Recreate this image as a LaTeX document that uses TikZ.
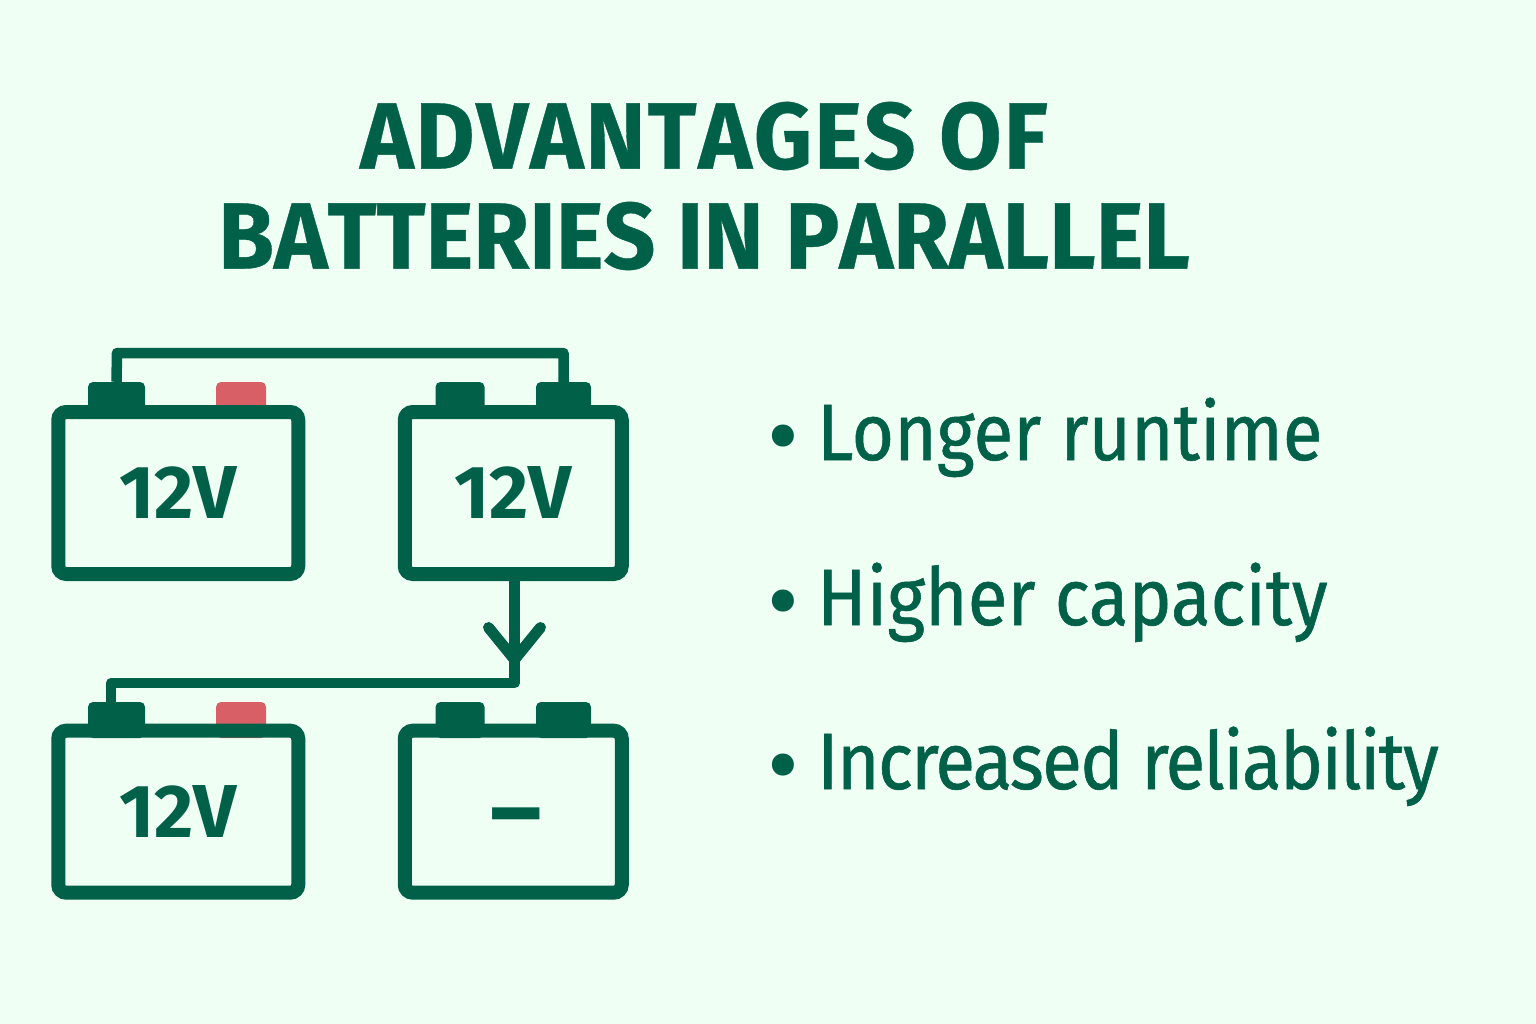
\documentclass[tikz,border=0pt]{standalone}
\usepackage{fontspec}
\setmainfont{Fira Sans}
\newfontfamily\headfont[FakeStretch=0.965,Kerning=Off,FakeBold=0.4]{Fira Sans Bold}
\newfontfamily\headwide[FakeStretch=0.965,Kerning=Off,FakeBold=0.4,LetterSpace=2]{Fira Sans Bold}
\newfontfamily\labelfont[FakeStretch=1.01,Kerning=Off]{Fira Sans Bold}
\newfontfamily\listfont[FakeStretch=0.91,FakeBold=0.7]{Fira Sans}
\newfontfamily\listtight[FakeStretch=0.91,FakeBold=0.7,LetterSpace=-2.1]{Fira Sans}
\usetikzlibrary{arrows.meta}
\definecolor{bgmint}{HTML}{F0FFF3}
\definecolor{darkgreen}{HTML}{006048}
\definecolor{termred}{HTML}{D95F66}
\begin{document}
\begin{tikzpicture}[x=1pt, y=-1pt, node distance=335pt,
            battery/.style={rectangle, draw=darkgreen, line width=14pt, rounded corners=8pt, minimum height=162pt, text=darkgreen, font=\fontsize{75}{75}\labelfont},
            widebatt/.style={battery, minimum width=240pt},
            narrowbatt/.style={battery, minimum width=217pt},
            terminal/.style={rectangle, rounded corners=5pt, minimum height=36pt, inner sep=0pt},
            negterm/.style={terminal, fill=darkgreen},
            posterm/.style={terminal, fill=termred},
            wire/.style={draw=darkgreen, line width=10.5pt, line join=round},
            heading/.style={text=darkgreen, align=center, font=\fontsize{94}{100}\headfont},
            minussign/.style={text=darkgreen, inner sep=0pt, text height=55pt, text depth=0pt, font=\fontsize{98}{98}\labelfont},
            bulletdot/.style={text=darkgreen, inner sep=0pt, font=\fontsize{98}{98}\selectfont},
            listitem/.style={text=darkgreen, anchor=base west, inner sep=0pt, font=\fontsize{80}{80}\listfont}]

        \useasboundingbox[fill=bgmint] (0,0) rectangle (1536,1024);

        \node[heading] (title) at (704,186) {{\headwide ADVANTAGES OF}\\BATTERIES IN PARALLEL};

        % terminals go first, the battery tops cover their lower ends
        \node[negterm, minimum width=57pt] (termA) at (116.5,400) {};
        \node[posterm, minimum width=50pt] (termB) at (241,400) {};
        \node[negterm, minimum width=49pt] (termC) at (460,400) {};
        \node[negterm, minimum width=55pt] (termD) at (563.5,400) {};
        \node[negterm, minimum width=57pt] (termE) at (116.5,720) {};
        \node[posterm, minimum width=50pt] (termF) at (241,720) {};
        \node[negterm, minimum width=49pt] (termG) at (460,720) {};
        \node[negterm, minimum width=55pt] (termH) at (563.5,720) {};

        \node[widebatt] (battA) at (178.25,493) {12V};
        \node[narrowbatt, right of=battA] (battB) {12V};
        \node[widebatt] (battC) at (178.25,811.7) {12V};
        \node[narrowbatt, right of=battC] (battD) {};
        \node[minussign] (minusD) at (516,817) {–};

        \coordinate (topleft) at (117,353);
        \coordinate (stemtop) at (514.5,581);
        \coordinate (arrowtip) at (514.5,665);
        \coordinate (stemlow) at (514.5,650);
        \coordinate (corner) at (514.5,683);

        \draw[wire] (termA.north) -- (topleft) -| (termD.north);
        \draw[wire, -{Straight Barb[length=32pt, width=52pt, line width=11pt, round]}] (stemtop) -- (arrowtip);
        \draw[wire] (stemlow) -- (corner) -| ([xshift=-5.5pt]termE.north);

        \node[bulletdot] (dotA) at (783,447) {•};
        \node[bulletdot] (dotB) at (783,612) {•};
        \node[bulletdot] (dotC) at (783,776) {•};

        \node[listitem] (itemA) at (817,460) {Longer runtime};
        \node[listitem] (itemB) at (817,625) {Higher capacity};
        \node[listitem] (itemC) at (817,789) {\listtight Increased reliability};
    \end{tikzpicture}
\end{document}
